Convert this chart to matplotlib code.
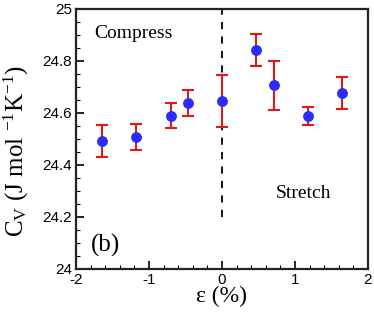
import matplotlib
matplotlib.use("Agg")
import matplotlib.pyplot as plt
from matplotlib.ticker import MultipleLocator

strain = [-1.65, -1.18, -0.70, -0.46, 0.0, 0.47, 0.71, 1.18, 1.65]
cv = [24.493, 24.508, 24.590, 24.638, 24.645, 24.842, 24.706, 24.588, 24.676]
err = [0.061, 0.050, 0.049, 0.050, 0.100, 0.063, 0.093, 0.036, 0.061]
xticks = [-2, -1, 0, 1, 2]
xtick_labels = ['-2', '-1', '0', '1', '2']
yticks = [24, 24.2, 24.4, 24.6, 24.8, 25]
ytick_labels = ['24', '24.2', '24.4', '24.6', '24.8', '25']

serif = 'Liberation Serif'
plt.rcParams['mathtext.fontset'] = 'custom'
plt.rcParams['mathtext.rm'] = serif
plt.rcParams['mathtext.it'] = serif + ':italic'

fig = plt.figure(figsize=(3.74, 3.14), dpi=100)
ax = fig.add_axes([76/374, 1 - 269/314, (368-76)/374, (269-9)/314])

ax.plot([0, 0], [24.2, 25.0], color='black', linestyle=(0, (4, 4)), linewidth=1.3, zorder=1)
ax.errorbar(strain, cv, yerr=err, fmt='o', color='#2b2bff', markersize=6.8,
            ecolor='#e01818', elinewidth=1.5, capsize=4, capthick=1.5, zorder=3)

ax.set_xlim(-2, 2)
ax.set_ylim(24, 25)
ax.set_xticks(xticks)
ax.set_xticklabels(xtick_labels)
ax.set_yticks(yticks)
ax.set_yticklabels(ytick_labels)
ax.xaxis.set_minor_locator(MultipleLocator(0.2))
ax.yaxis.set_minor_locator(MultipleLocator(0.05))

ax.tick_params(which='both', direction='in', top=False, right=False,
               labelsize=11, pad=3)
ax.tick_params(which='major', length=6, width=1.2)
ax.tick_params(which='minor', length=3, width=0.8)
for lab in ax.get_xticklabels() + ax.get_yticklabels():
    lab.set_fontfamily('Liberation Sans')
for s in ax.spines.values():
    s.set_linewidth(1.6)
    s.set_color('#222222')

ax.set_xlabel('ε (%)', fontfamily=serif, fontsize=17, labelpad=-1)
ax.set_ylabel(r'C$_{\mathregular{V}}$ (J mol $^{\mathregular{-1}}$K$^{\mathregular{-1}}$)',
              fontfamily=serif, fontsize=18)
ax.yaxis.set_label_coords(-0.155, 0.455)

ax.text(-1.75, 24.905, 'Compress', fontfamily=serif, fontsize=14, va='center', ha='left')
ax.text(0.73, 24.29, 'Stretch', fontfamily=serif, fontsize=14, va='center', ha='left')
ax.text(-1.79, 24.09, '(b)', fontfamily=serif, fontsize=18, va='center', ha='left')

fig.savefig('out.png', dpi=100)
